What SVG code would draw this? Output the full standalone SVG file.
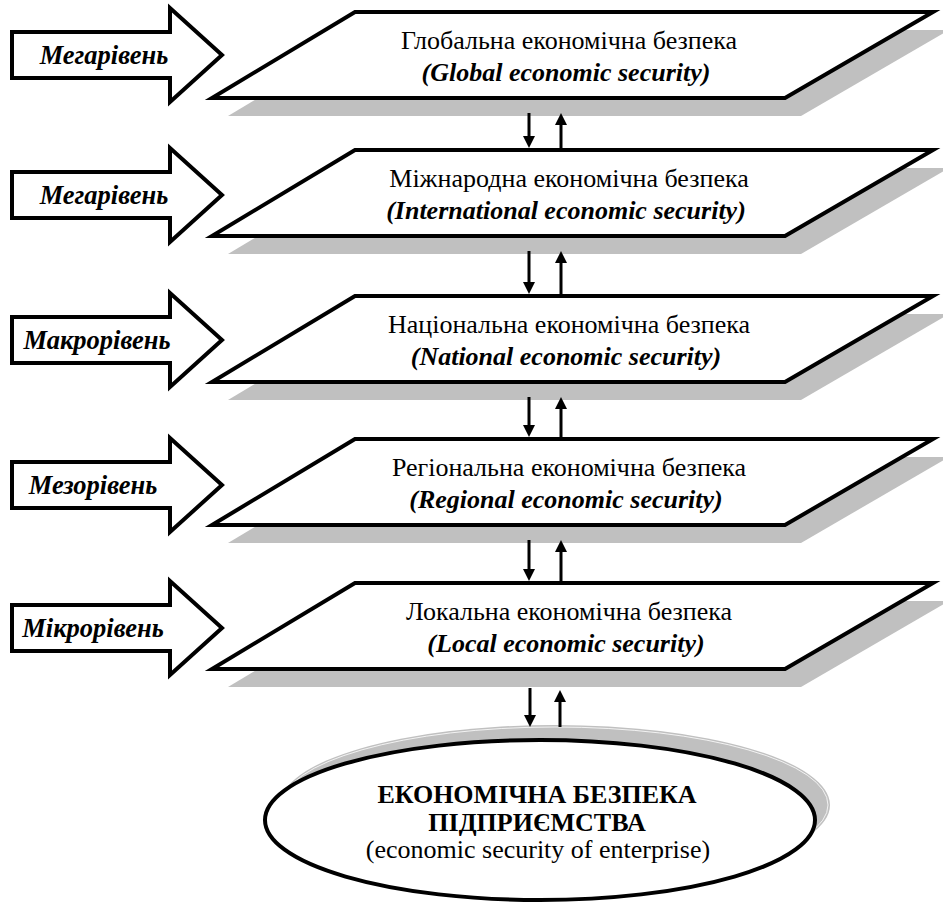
<svg xmlns="http://www.w3.org/2000/svg" width="943" height="904" viewBox="0 0 943 904">
<defs>
<style>
.bg{fill:#fff}
.sh{fill:#c0c0c0}
.pl{fill:#fff;stroke:#000;stroke-width:4;stroke-linejoin:miter}
.ar{fill:#fff;stroke:#000;stroke-width:4;stroke-linejoin:miter}
text{font-family:'Liberation Serif','Times New Roman',serif;fill:#000;text-anchor:middle}
.t1{font-size:26px}
.t2{font-size:26px;font-weight:bold;font-style:italic}
.lb{font-size:26.5px;font-weight:bold;font-style:italic}
.tb{font-size:26px;font-weight:bold}
.cn{stroke:#000;stroke-width:3;fill:none}
.hd{fill:#000}
</style>
</defs>
<rect class="bg" x="0" y="0" width="943" height="904"/>

<g id="level1">
<polygon class="sh" points="371,30 949,30 801,116 228,116"/>
<polygon class="pl" points="355,12 933,12 785,98 212,98"/>
<text class="t1" x="569" y="49">Глобальна економічна безпека</text>
<text class="t2" x="566" y="81">(Global economic security)</text>
</g>
<g id="arrow1">
<polygon class="ar" points="12,32 170,32 170,8 222,55 170,102 170,78 12,78"/>
<text class="lb" x="104" y="64">Мегарівень</text>
</g>

<g id="level2">
<polygon class="sh" points="371,168 949,168 801,254 228,254"/>
<polygon class="pl" points="355,150 933,150 785,236 212,236"/>
<text class="t1" x="569" y="187">Міжнародна економічна безпека</text>
<text class="t2" x="566" y="219">(International economic security)</text>
</g>
<g id="arrow2">
<polygon class="ar" points="12,172 170,172 170,148 222,195 170,242 170,218 12,218"/>
<text class="lb" x="104" y="204">Мегарівень</text>
</g>

<g id="level3">
<polygon class="sh" points="371,314 949,314 801,400 228,400"/>
<polygon class="pl" points="355,296 933,296 785,382 212,382"/>
<text class="t1" x="569" y="333">Національна економічна безпека</text>
<text class="t2" x="566" y="365">(National economic security)</text>
</g>
<g id="arrow3">
<polygon class="ar" points="12,317 170,317 170,293 222,340 170,387 170,363 12,363"/>
<text class="lb" x="97" y="349">Макрорівень</text>
</g>

<g id="level4">
<polygon class="sh" points="371,457 949,457 801,543 228,543"/>
<polygon class="pl" points="355,439 933,439 785,525 212,525"/>
<text class="t1" x="569" y="476">Регіональна економічна безпека</text>
<text class="t2" x="566" y="508">(Regional economic security)</text>
</g>
<g id="arrow4">
<polygon class="ar" points="12,462 170,462 170,438 222,485 170,532 170,508 12,508"/>
<text class="lb" x="93" y="494">Мезорівень</text>
</g>

<g id="level5">
<polygon class="sh" points="371,601 949,601 801,687 228,687"/>
<polygon class="pl" points="355,583 933,583 785,669 212,669"/>
<text class="t1" x="569" y="620">Локальна економічна безпека</text>
<text class="t2" x="566" y="652">(Local economic security)</text>
</g>
<g id="arrow5">
<polygon class="ar" points="12,605 170,605 170,581 222,628 170,675 170,651 12,651"/>
<text class="lb" x="93" y="637">Мікрорівень</text>
</g>

<g id="enterprise">
<ellipse cx="555" cy="805" rx="275" ry="80" fill="#c0c0c0"/>
<ellipse cx="555" cy="805" rx="273" ry="78" fill="none" stroke="#fff" stroke-width="0.8"/>
<ellipse cx="540" cy="820" rx="275" ry="80" fill="#fff" stroke="#000" stroke-width="4"/>
<text class="tb" x="537" y="803">ЕКОНОМІЧНА БЕЗПЕКА</text>
<text class="tb" x="537" y="831">ПІДПРИЄМСТВА</text>
<text class="t1" x="538" y="858">(economic security of enterprise)</text>
</g>

<g id="connectors">
<line class="cn" x1="529" y1="113" x2="529" y2="136"/>
<path class="hd" d="M523,136 L535,136 L529,148 Z"/>
<line class="cn" x1="561" y1="125" x2="561" y2="148"/>
<path class="hd" d="M555,125 L567,125 L561,113 Z"/>

<line class="cn" x1="529" y1="251" x2="529" y2="282"/>
<path class="hd" d="M523,282 L535,282 L529,294 Z"/>
<line class="cn" x1="561" y1="263" x2="561" y2="294"/>
<path class="hd" d="M555,263 L567,263 L561,251 Z"/>

<line class="cn" x1="529" y1="397" x2="529" y2="425"/>
<path class="hd" d="M523,425 L535,425 L529,437 Z"/>
<line class="cn" x1="561" y1="409" x2="561" y2="437"/>
<path class="hd" d="M555,409 L567,409 L561,397 Z"/>

<line class="cn" x1="529" y1="540" x2="529" y2="569"/>
<path class="hd" d="M523,569 L535,569 L529,581 Z"/>
<line class="cn" x1="561" y1="552" x2="561" y2="581"/>
<path class="hd" d="M555,552 L567,552 L561,540 Z"/>

<line class="cn" x1="530" y1="688" x2="530" y2="715"/>
<path class="hd" d="M524,715 L536,715 L530,727 Z"/>
<line class="cn" x1="560" y1="702" x2="560" y2="727"/>
<path class="hd" d="M554,702 L566,702 L560,690 Z"/>
</g>
</svg>
